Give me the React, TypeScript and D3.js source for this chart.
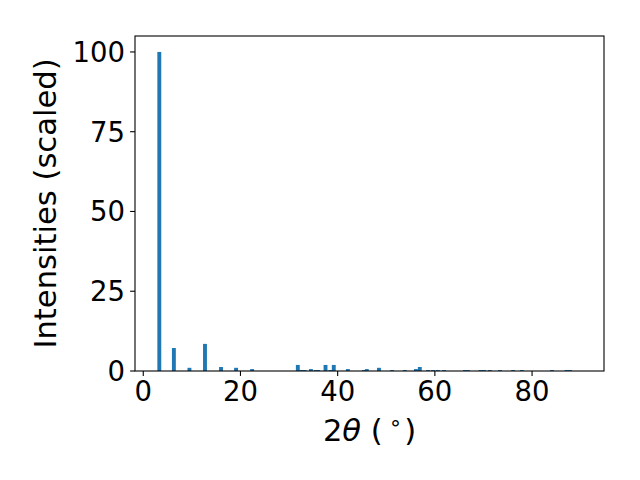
import React from "react";
import * as d3 from "d3";

const twoTheta: number[] = [
  3.3, 6.3, 9.5, 12.7, 16.0, 19.1, 22.4, 31.8, 32.5, 33.2, 34.5, 35.5, 36.0,
  37.5, 38.5, 39.2, 42.1, 45.4, 46.0, 48.5, 51.2, 53.8, 56.1, 56.9, 58.6,
  59.6, 60.6, 61.9, 66.2, 66.8, 69.4, 70.1, 71.3, 73.4, 76.1, 77.9, 84.1,
  87.1, 87.8,
];
const intensities: number[] = [
  100, 7.2, 1.0, 8.5, 1.25, 1.0, 0.6, 1.9, 0.3, 0.3, 0.6, 0.3, 0.3, 1.9, 0.3,
  1.9, 0.6, 0.3, 0.6, 1.0, 0.3, 0.3, 0.6, 1.25, 0.3, 0.3, 0.3, 0.3, 0.3, 0.3,
  0.3, 0.3, 0.3, 0.3, 0.3, 0.3, 0.3, 0.3, 0.3,
];
const xTicks: number[] = [0, 20, 40, 60, 80];
const yTicks: number[] = [0, 25, 50, 75, 100];

const W = 640;
const H = 480;
const left = 135;
const right = 604;
const top = 36;
const bottom = 371;
const barWidth = 0.8;
const font = "'DejaVu Sans', sans-serif";
const fs = 27.5;
const lfs = 30.6;

export default function App() {
  const x = d3.scaleLinear().domain([-1.7, 94.8]).range([left, right]);
  const y = d3.scaleLinear().domain([0, 105]).range([bottom, top]);
  const bw = x(barWidth) - x(0);

  return (
    <div style={{ position: "absolute", left: 0, top: 0 }}>
      <svg width={W} height={H} style={{ display: "block", background: "#fff" }}>
        <rect x={0} y={0} width={W} height={H} fill="#fff" />
        <g>
          {twoTheta.map((t, i) => (
            <rect
              key={i}
              x={x(t) - bw / 2}
              y={y(intensities[i])}
              width={bw}
              height={y(0) - y(intensities[i])}
              fill="#1f77b4"
            />
          ))}
        </g>
        <rect
          x={left}
          y={top}
          width={right - left}
          height={bottom - top}
          fill="none"
          stroke="#000"
          strokeWidth={1.1}
        />
        {xTicks.map((t) => (
          <g key={t}>
            <line x1={x(t)} x2={x(t)} y1={bottom} y2={bottom + 4.9} stroke="#000" strokeWidth={1.1} />
            <text
              x={x(t)}
              y={bottom + 30}
              textAnchor="middle"
              fontFamily={font}
              fontSize={fs}
              fill="#000"
            >
              {t}
            </text>
          </g>
        ))}
        {yTicks.map((t) => (
          <g key={t}>
            <line x1={left - 4.9} x2={left} y1={y(t)} y2={y(t)} stroke="#000" strokeWidth={1.1} />
            <text
              x={left - 10}
              y={y(t)}
              dy="0.36em"
              textAnchor="end"
              fontFamily={font}
              fontSize={fs}
              fill="#000"
            >
              {t}
            </text>
          </g>
        ))}
        <text
          x={(left + right) / 2}
          y={441}
          textAnchor="middle"
          fontFamily={font}
          fontSize={lfs}
          fill="#000"
        >
          <tspan>2</tspan>
          <tspan fontStyle="italic">θ</tspan>
          <tspan> (</tspan>
          <tspan fontSize={lfs * 0.7} dy={-11} dx={6}>∘</tspan>
          <tspan dy={11} dx={2}>)</tspan>
        </text>
        <text
          transform={`translate(56, ${(top + bottom) / 2}) rotate(-90)`}
          textAnchor="middle"
          fontFamily={font}
          fontSize={lfs}
          fill="#000"
        >
          Intensities (scaled)
        </text>
      </svg>
    </div>
  );
}
